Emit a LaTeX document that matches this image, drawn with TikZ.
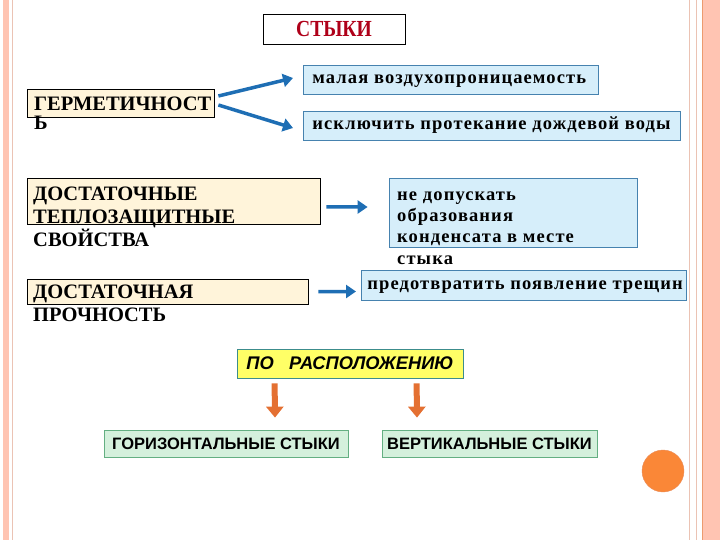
\documentclass[tikz,border=0pt]{standalone}
\usepackage{fontspec}
\setmainfont{Liberation Serif}
\setsansfont{Liberation Sans}
\newfontfamily\wideserif[LetterSpace=6.0]{Liberation Serif}
\usepackage{tikz}
\usetikzlibrary{arrows.meta}
\definecolor{tanfill}{RGB}{255,244,218}
\definecolor{bluefill}{RGB}{214,238,250}
\definecolor{blueline}{RGB}{70,130,175}
\definecolor{arrowblue}{RGB}{30,110,180}
\definecolor{yellowfill}{RGB}{255,255,102}
\definecolor{tealline}{RGB}{60,140,140}
\definecolor{greenfill}{RGB}{212,240,220}
\definecolor{greenline}{RGB}{100,175,130}
\definecolor{orangearr}{RGB}{228,112,50}
\definecolor{orangedot}{RGB}{250,135,55}
\definecolor{darkred}{RGB}{175,0,25}
\definecolor{pinkstripe}{RGB}{255,196,178}
\definecolor{pinkline}{RGB}{235,195,180}

\begin{document}
\begin{tikzpicture}[x=1bp, y=-1bp,
    tanbox/.style={draw=black, fill=tanfill, line width=0.8bp, inner sep=0pt},
    bluebox/.style={draw=blueline, fill=bluefill, line width=0.8bp, inner ysep=0pt,
        text height=13bp, text depth=4bp,
        font=\wideserif\bfseries\fontsize{18.5bp}{21bp}\selectfont},
    captext/.style={inner sep=0pt, anchor=north west, align=left,
        font=\bfseries\fontsize{20.5bp}{23bp}\selectfont},
    lowtext/.style={inner sep=0pt, anchor=north west, align=left,
        font=\wideserif\bfseries\fontsize{18.5bp}{21bp}\selectfont},
    sansbox/.style={line width=0.8bp, inner sep=0pt, font=\sffamily\bfseries\fontsize{16.5bp}{19bp}\selectfont},
    bluearrow/.style={draw=arrowblue, line width=3.5bp, -{Triangle[width=13bp,length=10bp]}},
    orangearrow/.style={draw=orangearr, line width=6bp, -{Triangle[width=17bp,length=11bp]}}]
    \useasboundingbox (0,0) rectangle (720,540);

    % slide border
    \fill[pinkstripe] (3,0) rectangle (9,540);
    \draw[pinkline, line width=1bp] (12,0) -- (12,540);
    \draw[pinkline, line width=1.5bp] (689.5,0) -- (689.5,540);
    \draw[pinkline, line width=1.5bp] (696.5,0) -- (696.5,540);
    \fill[pinkstripe] (702,0) rectangle (720,540);
    \draw[orangearr!70, line width=0.8bp] (702,0) -- (702,540);

    % title
    \node[draw=black, fill=white, line width=0.8bp, minimum width=142bp, minimum height=30bp,
        text=darkred, font=\bfseries\fontsize{23bp}{25bp}\selectfont] (stiki) at (334,29) {\scalebox{0.85}[1]{СТЫКИ}};

    % left column
    \node[tanbox, minimum width=187bp, minimum height=28bp] (germ) at (120.5,103) {};
    \node[captext] (germtxt) at (34,97) {ГЕРМЕТИЧНОСТ\\[-4bp]Ь};
    \node[tanbox, minimum width=293bp, minimum height=46bp] (dost) at (173.5,201) {};
    \node[captext] (dosttxt) at (33,187) {ДОСТАТОЧНЫЕ\\ТЕПЛОЗАЩИТНЫЕ\\СВОЙСТВА};
    \node[tanbox, minimum width=281bp, minimum height=25bp] (prochn) at (167.5,291.5) {};
    \node[captext] (prochntxt) at (33,285) {ДОСТАТОЧНАЯ\\ПРОЧНОСТЬ};

    % right column
    \node[bluebox, anchor=west, inner xsep=9bp, minimum height=29bp] (mala) at (303,79.5) {\makebox[277bp][l]{малая воздухопроницаемость}};
    \node[bluebox, anchor=west, inner xsep=9bp, minimum height=29bp] (iskl) at (303,125.5) {\makebox[359bp][l]{исключить протекание дождевой воды}};
    \node[bluebox, minimum width=248bp, minimum height=69bp] (kond) at (513,212.5) {};
    \node[lowtext] (kondtxt) at (397,192) {не допускать\\образования\\конденсата в месте\\[1bp]стыка};
    \node[bluebox, anchor=west, inner xsep=6bp, minimum height=30bp] (pred) at (361,285) {\makebox[313bp][l]{предотвратить появление трещин}};

    \draw[bluearrow] ([xshift=4bp,yshift=7bp]germ.east) -- ([xshift=-10bp,yshift=1.5bp]mala.west);
    \draw[bluearrow] ([xshift=4bp,yshift=-2bp]germ.east) -- ([xshift=-10bp,yshift=-2.5bp]iskl.west);
    \draw[bluearrow] ([xshift=6bp,yshift=-6bp]dost.east) -- ([xshift=-21bp,yshift=5.5bp]kond.west);
    \draw[bluearrow] ([xshift=10bp]prochn.east) -- ([xshift=-5bp,yshift=-6.5bp]pred.west);

    % by position
    \node[sansbox, draw=tealline, fill=yellowfill, minimum width=226bp, minimum height=29bp,
        font=\sffamily\bfseries\itshape\fontsize{18.3bp}{21bp}\selectfont] (raspol) at (350,363.5) {ПО\ \ \ РАСПОЛОЖЕНИЮ};
    \node[sansbox, draw=greenline, fill=greenfill, minimum width=244bp, minimum height=27bp] (horiz) at (226,443.5) {ГОРИЗОНТАЛЬНЫЕ СТЫКИ};
    \node[sansbox, draw=greenline, fill=greenfill, minimum width=215bp, minimum height=27bp] (vert) at (489.5,443.5) {ВЕРТИКАЛЬНЫЕ СТЫКИ};

    \draw[orangearrow] ([xshift=38bp,yshift=-5bp]raspol.south west) -- ([xshift=49bp,yshift=12bp]horiz.north);
    \draw[orangearrow] ([xshift=180bp,yshift=-5bp]raspol.south west) -- ([xshift=-72.5bp,yshift=12bp]vert.north);

    \node[circle, fill=orangedot, draw=orangearr!80, minimum size=42bp, inner sep=0pt] (dot) at (663,471) {};
\end{tikzpicture}
\end{document}
